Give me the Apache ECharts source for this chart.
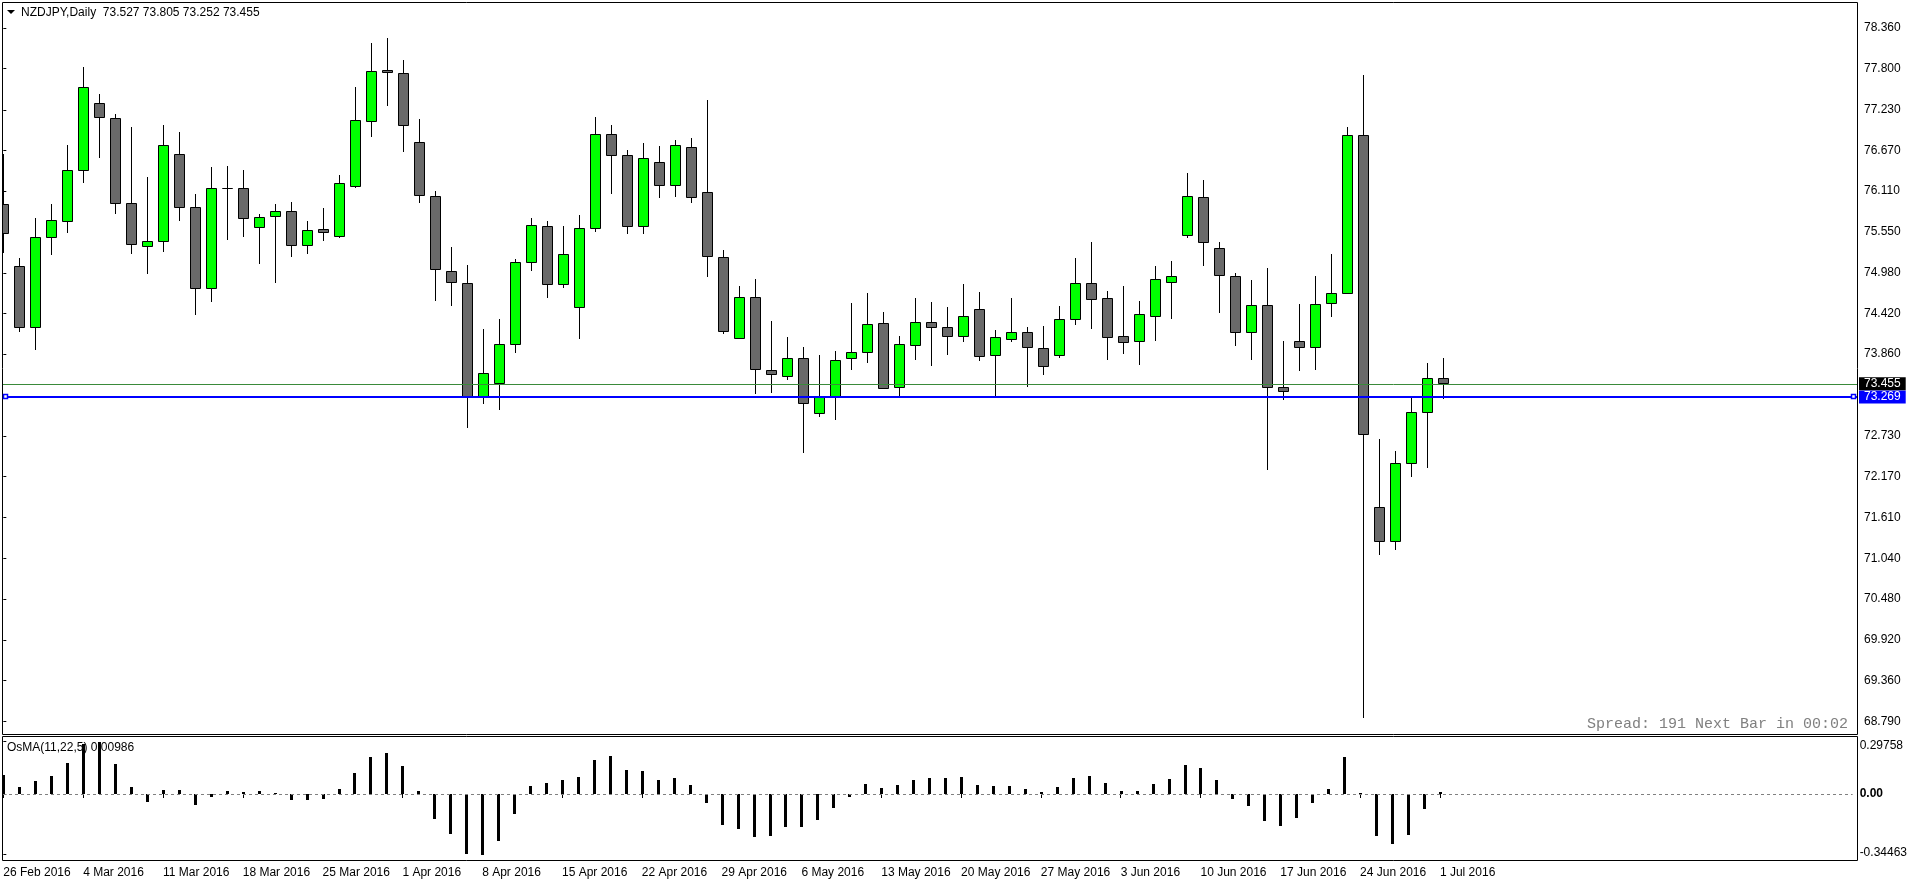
<!DOCTYPE html>
<html><head><meta charset="utf-8">
<script src="https://cdn.jsdelivr.net/npm/echarts@6/dist/echarts.min.js"></script>
<style>html,body{margin:0;padding:0;background:#fff;}#c{width:1910px;height:884px;}</style>
</head><body><div id="c"></div>
<script>
// ---- data (daily NZDJPY bars, index 0 = 26 Feb 2016, index 90 = 1 Jul 2016) ----
const symbolName = 'NZDJPY,Daily';
const dateLabels = ['26 Feb 2016','4 Mar 2016','11 Mar 2016','18 Mar 2016','25 Mar 2016','1 Apr 2016','8 Apr 2016','15 Apr 2016','22 Apr 2016','29 Apr 2016','6 May 2016','13 May 2016','20 May 2016','27 May 2016','3 Jun 2016','10 Jun 2016','17 Jun 2016','24 Jun 2016','1 Jul 2016'];
const dateLabelIndex = [0,5,10,15,20,25,30,35,40,45,50,55,60,65,70,75,80,85,90];
const opens = [75.931,75.076,74.230,75.472,75.696,76.396,77.320,77.113,75.941,75.358,
75.416,76.616,75.885,74.768,76.152,76.147,75.618,75.761,75.830,75.361,
75.582,75.485,76.175,77.072,77.775,77.734,76.782,76.037,75.003,74.837,
73.273,73.458,73.996,75.127,75.623,74.823,74.506,75.596,76.892,76.603,
75.623,76.506,76.189,76.713,76.092,75.196,74.078,74.644,73.637,73.554,
73.803,73.044,73.273,73.803,73.885,74.285,73.403,73.982,74.299,74.230,
74.106,74.478,73.844,74.065,74.161,73.941,73.844,74.341,74.837,74.630,
74.106,74.037,74.382,74.851,75.499,76.023,75.320,74.934,74.161,74.534,
73.403,74.037,73.954,74.561,74.699,76.878,71.756,71.283,72.354,73.058,73.527];
const highs = [76.620,75.186,75.734,75.931,76.741,77.816,77.444,77.168,76.993,76.303,
77.021,76.924,76.069,76.441,76.455,76.396,75.789,75.931,75.958,75.696,
75.872,76.331,77.541,78.152,78.216,77.913,77.103,76.106,75.334,75.089,
74.207,74.345,75.168,75.734,75.696,75.623,75.775,77.127,77.016,76.672,
76.768,76.727,76.810,76.837,77.365,75.292,74.796,74.892,74.317,74.096,
73.958,73.844,73.899,74.561,74.699,74.437,74.106,74.630,74.575,74.506,
74.827,74.717,74.193,74.630,74.230,74.244,74.520,75.182,75.403,74.727,
74.796,74.589,75.072,75.141,76.354,76.258,75.403,74.975,74.878,75.044,
74.037,74.547,74.934,75.237,76.989,77.706,72.685,72.524,73.265,73.738,73.805];
const lows = [75.273,74.183,73.927,75.237,75.541,76.238,76.583,75.803,75.259,74.983,
75.287,75.710,74.418,74.597,75.444,75.494,75.121,74.859,75.218,75.251,
75.430,75.480,76.170,76.873,77.300,76.666,75.954,74.611,74.542,72.859,
73.190,73.107,73.894,75.025,74.652,74.790,74.087,75.563,76.087,75.535,
75.535,76.032,76.045,75.963,74.942,74.156,74.078,73.320,73.338,73.521,
72.514,73.011,72.969,73.659,73.756,73.389,73.273,73.797,73.714,73.866,
74.045,73.783,73.273,74.037,73.425,73.590,73.816,74.272,74.225,73.797,
73.880,73.728,74.059,74.363,75.480,75.094,74.445,73.990,73.797,72.280,
73.245,73.645,73.659,74.390,74.699,68.859,71.099,71.168,72.183,72.307,73.252];
const closes = [75.527,74.230,75.472,75.706,76.396,77.541,77.127,75.941,75.375,75.416,
76.741,75.885,74.768,76.147,76.145,75.734,75.756,75.830,75.361,75.568,
75.541,76.216,77.085,77.761,77.747,77.016,76.051,75.030,74.851,73.273,
73.596,73.996,75.127,75.637,74.823,75.237,75.596,76.892,76.603,75.623,
76.561,76.189,76.741,76.023,75.209,74.175,74.644,73.651,73.582,73.803,
73.182,73.273,73.775,73.885,74.272,73.389,73.996,74.299,74.230,74.106,
74.382,73.830,74.092,74.161,73.954,73.692,74.341,74.837,74.616,74.092,
74.023,74.409,74.892,74.934,76.037,75.403,74.947,74.161,74.534,73.403,
73.347,73.954,74.547,74.699,76.878,72.754,71.283,72.354,73.058,73.527,73.455];
const osma = [0.108,0.040,0.074,0.102,0.178,0.285,0.29758,0.172,0.040,-0.044,
0.023,0.023,-0.061,-0.015,0.017,0.011,0.017,0.006,-0.034,-0.034,
-0.028,0.028,0.121,0.212,0.235,0.159,0.017,-0.142,-0.227,-0.340,
-0.34463,-0.265,-0.114,0.045,0.062,0.080,0.097,0.193,0.218,0.136,
0.131,0.080,0.091,0.051,-0.049,-0.174,-0.197,-0.242,-0.237,-0.186,
-0.186,-0.146,-0.078,-0.015,0.057,0.034,0.051,0.080,0.091,0.091,
0.097,0.051,0.045,0.045,0.028,0.011,0.040,0.091,0.102,0.062,
0.017,0.017,0.057,0.085,0.165,0.148,0.080,-0.027,-0.066,-0.152,
-0.180,-0.134,-0.049,0.028,0.210,0.005,-0.237,-0.282,-0.231,-0.083,0.00986];
const priceTicks = [78.360,77.800,77.230,76.670,76.110,75.550,74.980,74.420,73.860,72.730,72.170,71.610,71.040,70.480,69.920,69.360,68.790];
const osmaTicks = [0.29758,0,-0.34463];
const bidPrice = 73.455;
const levelPrice = 73.269;
const spreadText = 'Spread: 191 Next Bar in 00:02';
const osmaName = 'OsMA(11,22,5)';

// ---- chart ----
const FONT = 'Liberation Sans';
const chart = echarts.init(document.getElementById('c'), null, {renderer:'canvas'});
const candleData = opens.map((o,i)=>[i,o,highs[i],lows[i],closes[i]]);
const osmaData = osma.map((v,i)=>[i,v]);
const last = opens.length-1;
const titleText = symbolName + '  ' + [opens[last],highs[last],lows[last],closes[last]].map(v=>v.toFixed(3)).join(' ');

function renderCandle(params, api){
  const i = api.value(0);
  const o = api.value(1), h = api.value(2), l = api.value(3), c = api.value(4);
  const xc = Math.round(api.coord([i,o])[0]) + 0.5;
  const yo = api.coord([i,o])[1], yc = api.coord([i,c])[1];
  const yh = api.coord([i,h])[1], yl = api.coord([i,l])[1];
  const top = Math.round(Math.min(yo,yc)) + 0.5;
  const bot = Math.round(Math.max(yo,yc)) + 0.5;
  const bull = c >= o;
  return {type:'group', children:[
    {type:'line', shape:{x1:xc, y1:Math.round(yh), x2:xc, y2:Math.round(yl)+1}, style:{stroke:'#000', lineWidth:1}},
    {type:'rect', shape:{x:xc-5, y:top, width:10, height:Math.max(bot-top,0)}, style:{fill: bull ? '#00ff00' : '#696969', stroke:'#000', lineWidth:1}}
  ]};
}
function renderHist(params, api){
  const i = api.value(0), v = api.value(1);
  const p = api.coord([i,v]), z = api.coord([i,0]);
  const x = Math.round(p[0]) - 1;
  const y0 = Math.round(z[1]), y1 = Math.round(p[1]);
  return {type:'rect', shape:{x:x, y:Math.min(y0,y1), width:3, height:Math.max(Math.abs(y1-y0),1)}, style:{fill:'#000'}};
}
// horizontal level line (blue) with hollow square handles and its price box
function renderLevel(params, api){
  const cs = params.coordSys;
  const v = api.value(1);
  const y = Math.round(api.coord([0, v])[1]);
  const x0 = cs.x, x1 = cs.x + cs.width;
  return {type:'group', children:[
    {type:'rect', shape:{x:x0, y:y-1, width:x1-x0, height:2}, style:{fill:'#0000ff'}},
    {type:'rect', shape:{x:x0+0.5, y:y-2.5, width:4, height:4}, style:{fill:'#fff', stroke:'#0000ff', lineWidth:1.5}},
    {type:'rect', shape:{x:x1-5.5, y:y-2.5, width:4, height:4}, style:{fill:'#fff', stroke:'#0000ff', lineWidth:1.5}},
    {type:'text', x:x1+2, y:y, style:{text:v.toFixed(3), fill:'#fff', backgroundColor:'#0000ff', padding:[1,5,0,5],
      fontSize:12, fontFamily:FONT, lineHeight:12, verticalAlign:'middle', align:'left'}}
  ]};
}

const xMin = -0.02, xMax = 115.855;
const option = {
  animation:false,
  backgroundColor:'#ffffff',
  grid:[
    {left:3, top:2, width:1854, height:732},
    {left:3, top:736, width:1854, height:124}
  ],
  xAxis:[
    {type:'value', gridIndex:0, min:xMin, max:xMax, show:false},
    {type:'value', gridIndex:1, min:xMin, max:xMax, position:'bottom',
      axisLine:{show:false}, splitLine:{show:false},
      axisTick:{show:true, customValues:dateLabelIndex, length:4, lineStyle:{color:'#000'}},
      axisLabel:{show:true, customValues:dateLabelIndex, formatter:v=>dateLabels[dateLabelIndex.indexOf(Math.round(v))]||'',
        align:'left', margin:7, color:'#000', fontSize:12, fontFamily:FONT}}
  ],
  yAxis:[
    {type:'value', gridIndex:0, min:68.620, max:78.717, position:'right',
      axisLine:{show:false}, splitLine:{show:false},
      axisTick:{show:true, customValues:priceTicks, length:3, lineStyle:{color:'#000'}},
      axisLabel:{show:true, customValues:priceTicks, formatter:v=>v.toFixed(3), margin:7, color:'#000', fontSize:12, fontFamily:FONT}},
    {type:'value', gridIndex:1, min:-0.375, max:0.32955, position:'right',
      axisLine:{show:false}, splitLine:{show:false},
      axisTick:{show:true, customValues:osmaTicks, length:3, lineStyle:{color:'#000'}},
      axisLabel:{show:true, customValues:osmaTicks, margin:7, color:'#000', fontSize:12, fontFamily:FONT,
        formatter:v=> v===0 ? '{b|0.00}' : (v>0 ? '{t|'+v.toFixed(5)+'}' : '{m|'+v.toFixed(5)+'}'),
        rich:{b:{fontWeight:'bold', fontSize:12, fontFamily:FONT, color:'#000'},
              t:{fontSize:12, fontFamily:FONT, color:'#000', padding:[8,0,0,0]},
              m:{fontSize:12, fontFamily:FONT, color:'#000', padding:[0,0,4,0]}}}}
  ],
  series:[
    {type:'custom', name:'NZDJPY', xAxisIndex:0, yAxisIndex:0, clip:true, data:candleData,
      encode:{x:0, y:[1,2,3,4]}, renderItem:renderCandle, silent:true, z:3,
      markLine:{silent:true, animation:false, symbol:['none','none'],
        data:[{yAxis:bidPrice, lineStyle:{color:'#3a8a3a', width:1, type:'solid'},
          label:{show:true, position:'end', distance:2, formatter:()=>bidPrice.toFixed(3), color:'#fff', backgroundColor:'#000',
            padding:[1,5,0,5], fontSize:12, fontFamily:FONT, lineHeight:12}}]}},
    {type:'custom', name:'Level', xAxisIndex:0, yAxisIndex:0, data:[[0, levelPrice]], encode:{x:0, y:1},
      renderItem:renderLevel, silent:true, z:4},
    {type:'custom', name:'OsMA', xAxisIndex:1, yAxisIndex:1, clip:true, data:osmaData,
      encode:{x:0, y:1}, renderItem:renderHist, silent:true,
      markLine:{silent:true, animation:false, symbol:['none','none'],
        data:[{yAxis:0, lineStyle:{color:'#808080', width:1, type:[3,3]}, label:{show:false}}]}}
  ],
  graphic:[
    {type:'rect', shape:{x:2.5, y:2.5, width:1855, height:732}, style:{fill:null, stroke:'#000', lineWidth:1}, silent:true},
    {type:'rect', shape:{x:2.5, y:736.5, width:1855, height:124}, style:{fill:null, stroke:'#000', lineWidth:1}, silent:true},
    {type:'polygon', shape:{points:[[7,10],[15,10],[11,14]]}, style:{fill:'#000'}, silent:true},
    {type:'text', x:21, y:13, style:{text:titleText, fontSize:12, fontFamily:FONT, fill:'#000', verticalAlign:'middle', align:'left'}, silent:true},
    {type:'text', x:7, y:748, style:{text:osmaName+' '+osma[last].toFixed(5), fontSize:12, fontFamily:FONT, fill:'#000', verticalAlign:'middle', align:'left'}, silent:true},
    {type:'text', x:1848, y:724, style:{text:spreadText, fontSize:15, fontFamily:'Liberation Mono', fill:'#808080', verticalAlign:'middle', align:'right'}, silent:true}
  ]
};
chart.setOption(option);
</script></body></html>
